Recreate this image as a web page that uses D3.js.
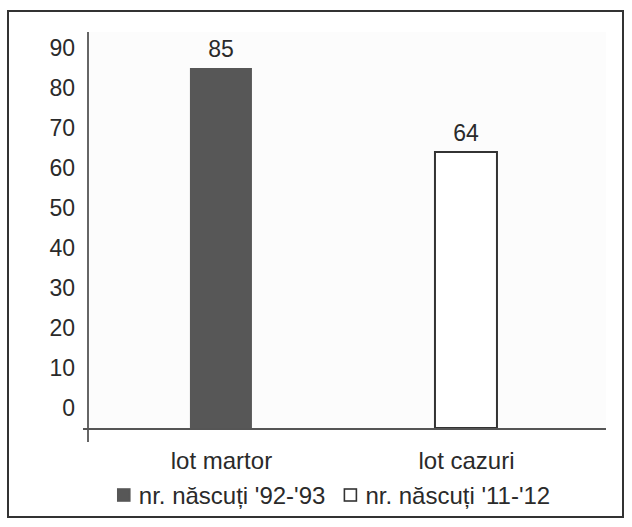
<!DOCTYPE html>
<html>
<head>
<meta charset="utf-8">
<script src="https://cdn.jsdelivr.net/npm/d3@7"></script>
<style>
  html, body { margin: 0; padding: 0; background: #fff; }
  svg { display: block; font-family: "Liberation Sans", Arial, sans-serif; }
</style>
</head>
<body>
<svg id="chart" width="632" height="527"></svg>
<script>
// Births per group, two cohorts
const categories = ["lot martor", "lot cazuri"];
const seriesNames = ["nr. născuți '92-'93", "nr. născuți '11-'12"];
const values = [85, 64];
const tickValues = [0, 10, 20, 30, 40, 50, 60, 70, 80, 90];

const svg = d3.select("#chart");
const textColor = "#2a2a2a";

// outer frame
svg.append("rect")
  .attr("x", 8).attr("y", 11).attr("width", 615).attr("height", 506)
  .attr("fill", "#fff").attr("stroke", "#333").attr("stroke-width", 2);

const plot = { left: 88, right: 606, top: 32, bottom: 429 };

// faint plot background
svg.append("rect")
  .attr("x", plot.left).attr("y", plot.top)
  .attr("width", plot.right - plot.left).attr("height", plot.bottom - plot.top)
  .attr("fill", "#fcfcfc");

const y = d3.scaleLinear().domain([-5, 90]).range([plot.bottom - 1, 48]);
const x = d3.scalePoint().domain(categories)
  .range([plot.left, plot.right]).padding(0.557).align(0.487);
const barW = 62;

// y axis labels
const yAxis = d3.axisLeft(y).tickValues(tickValues).tickSize(0).tickPadding(13);
const gy = svg.append("g").attr("transform", `translate(${plot.left},0)`).call(yAxis);
gy.select(".domain").remove();
gy.selectAll("text")
  .attr("fill", textColor)
  .style("font-size", "23px")
  .style("font-family", "'Liberation Sans', Arial, sans-serif");

// bars
const fills = ["#575757", "#ffffff"];
svg.selectAll("rect.bar").data(values).enter().append("rect")
  .attr("class", "bar")
  .attr("x", (d, i) => x(categories[i]) - barW / 2)
  .attr("y", d => y(d))
  .attr("width", barW)
  .attr("height", d => y.range()[0] - y(d))
  .attr("fill", (d, i) => fills[i])
  .attr("stroke", (d, i) => i === 0 ? "none" : "#333")
  .attr("stroke-width", 2);

// value labels
svg.selectAll("text.val").data(values).enter().append("text")
  .attr("class", "val")
  .attr("x", (d, i) => x(categories[i]))
  .attr("y", d => y(d) - 11)
  .attr("text-anchor", "middle")
  .attr("fill", textColor)
  .style("font-size", "23px")
  .text(d => d);

// axis lines
svg.append("line")
  .attr("x1", plot.left).attr("x2", plot.left)
  .attr("y1", plot.top).attr("y2", 442)
  .attr("stroke", "#666").attr("stroke-width", 2);
svg.append("line")
  .attr("x1", plot.left - 5).attr("x2", plot.right)
  .attr("y1", plot.bottom).attr("y2", plot.bottom)
  .attr("stroke", "#555").attr("stroke-width", 2);

// category labels
const xAxis = d3.axisBottom(x).tickSize(0).tickPadding(0);
const gx = svg.append("g").attr("transform", `translate(0,${plot.bottom})`).call(xAxis);
gx.select(".domain").remove();
gx.selectAll("text")
  .attr("dy", null)
  .attr("y", 40)
  .attr("fill", textColor)
  .style("font-size", "24px")
  .style("font-family", "'Liberation Sans', Arial, sans-serif");

// legend
const legend = svg.append("g");
const sq = 13, gapSq = 8, gapItem = 19;
const items = legend.selectAll("g").data(seriesNames).enter().append("g");
items.append("rect")
  .attr("width", sq - 1).attr("height", sq - 1)
  .attr("y", 489)
  .attr("fill", (d, i) => fills[i])
  .attr("stroke", (d, i) => i === 0 ? "#575757" : "#333")
  .attr("stroke-width", 1.6);
items.append("text")
  .attr("x", sq + gapSq)
  .attr("y", 504)
  .attr("fill", textColor)
  .style("font-size", "24px")
  .text(d => d);
let widths = [];
items.each(function() { widths.push(sq + gapSq + d3.select(this).select("text").node().getComputedTextLength()); });
const total = d3.sum(widths) + gapItem;
let cx = 334 - total / 2;
items.each(function(d, i) {
  d3.select(this).attr("transform", `translate(${cx},0)`);
  cx += widths[i] + gapItem;
});
</script>
</body>
</html>
